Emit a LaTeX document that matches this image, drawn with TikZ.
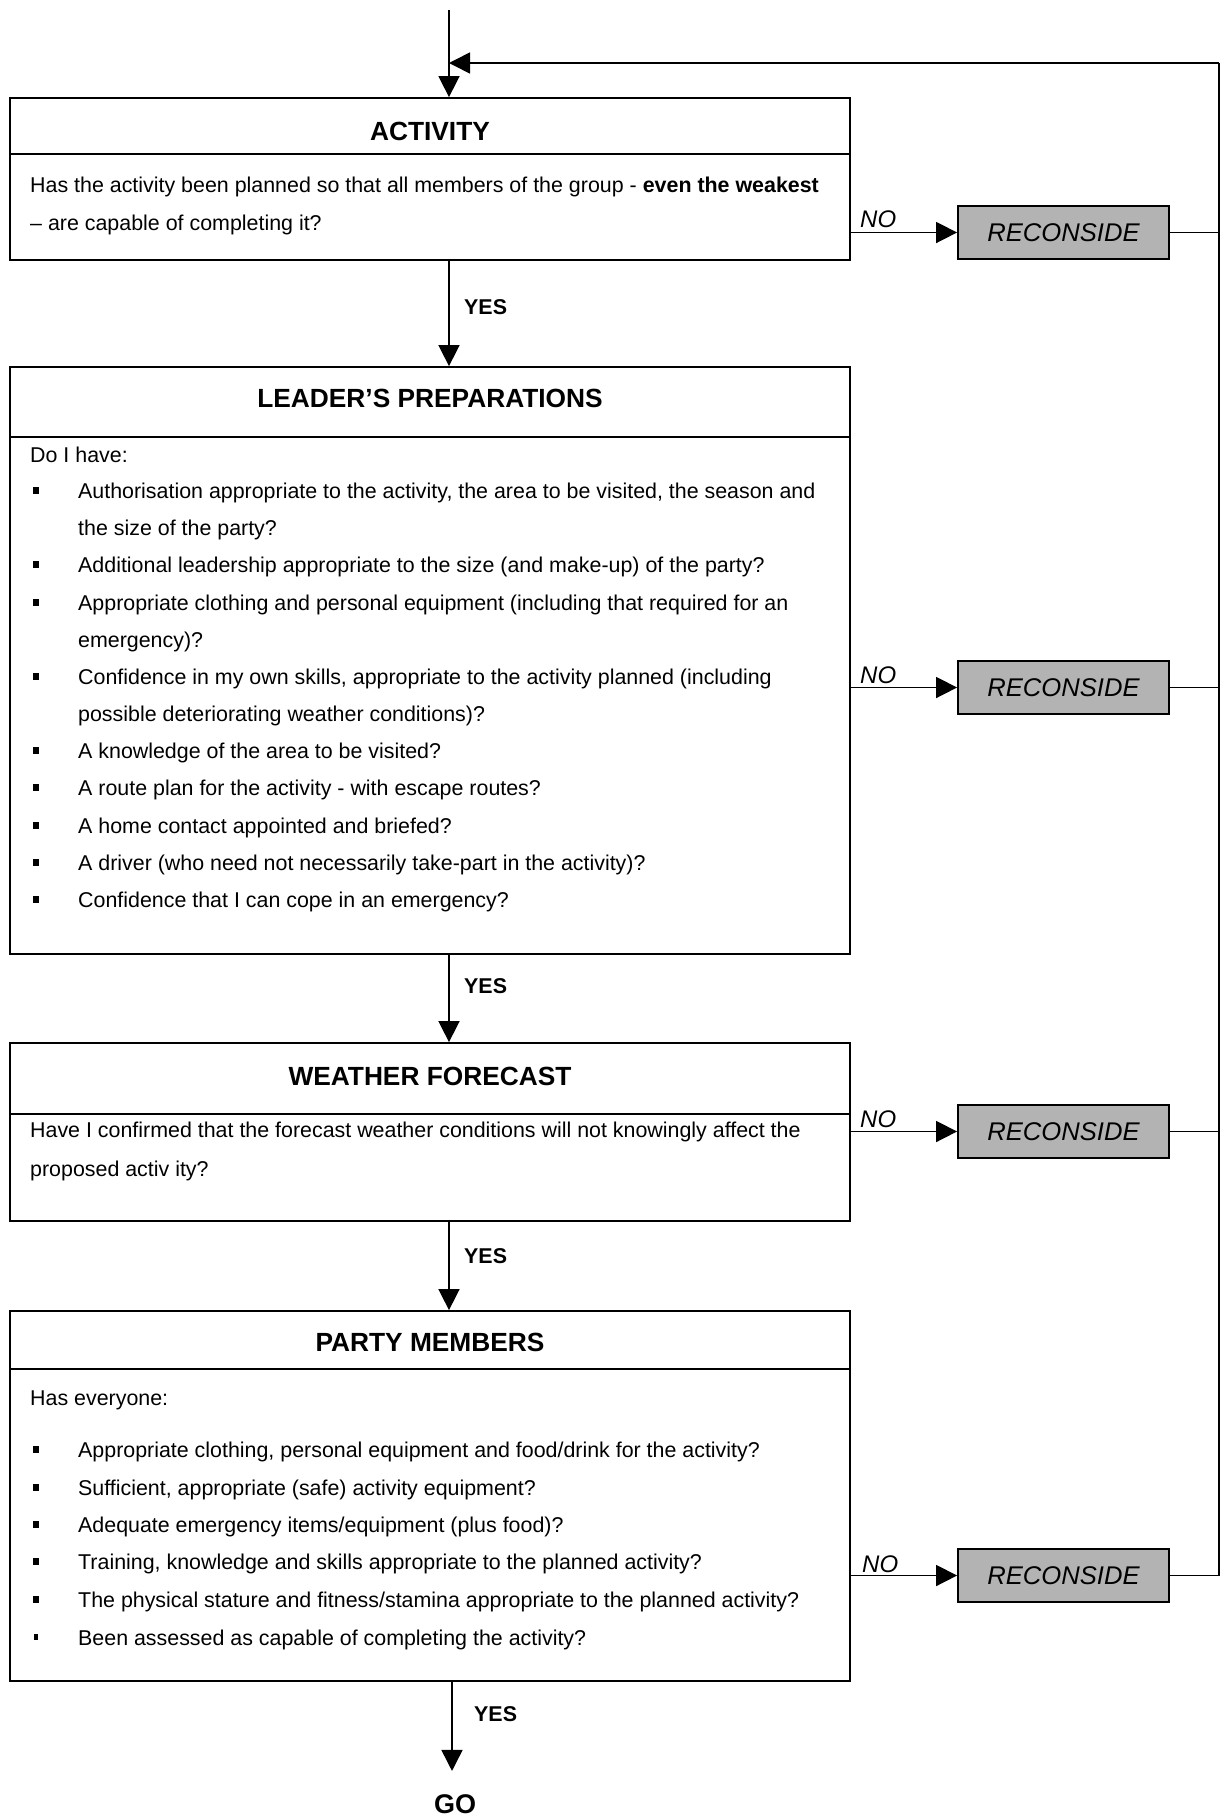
\documentclass[tikz,border=0pt]{standalone}
\usepackage{fontspec}
\setmainfont{Liberation Sans}
\usetikzlibrary{arrows.meta,calc}
\definecolor{recgray}{HTML}{B3B3B3}
\begin{document}
\begin{tikzpicture}[x=1pt,y=-1pt,
  box/.style={draw,line width=1.8pt,minimum width=840pt,inner sep=0pt},
  sepline/.style={line width=1.8pt},
  recbox/.style={draw,line width=1.8pt,fill=recgray,minimum width=211pt,minimum height=53pt,inner sep=0pt,
    font=\fontsize{25.6pt}{30pt}\selectfont\itshape},
  conn/.style={line width=1.6pt},
  arr/.style={line width=1.6pt,-{Triangle[length=21pt,width=21pt]}},
  body/.style={anchor=base west,inner sep=0pt,font=\fontsize{21.4pt}{37.2pt}\selectfont},
  ttl/.style={anchor=base,inner sep=0pt,font=\fontsize{26.3pt}{30pt}\selectfont\bfseries},
  yeslbl/.style={anchor=base west,inner sep=0pt,font=\fontsize{21.4pt}{26pt}\selectfont\bfseries},
  nolbl/.style={anchor=base west,inner sep=0pt,font=\fontsize{24pt}{28pt}\selectfont\itshape},
  bul/.style={fill=black,inner sep=0pt,minimum width=6pt,minimum height=7pt},
  smallbul/.style={fill=black,inner sep=0pt,minimum width=4pt,minimum height=6pt}]
\useasboundingbox (0,0) rectangle (1220,1816);

% main boxes
\node[box,minimum height=162pt] (act) at (430,179) {};
\node[box,minimum height=587pt] (lead) at (430,660.5) {};
\node[box,minimum height=178pt] (wea) at (430,1132) {};
\node[box,minimum height=370pt] (party) at (430,1496) {};

% header separators
\draw[sepline] (act.west |- 0,154) -- (act.east |- 0,154);
\draw[sepline] (lead.west |- 0,437) -- (lead.east |- 0,437);
\draw[sepline] (wea.west |- 0,1114) -- (wea.east |- 0,1114);
\draw[sepline] (party.west |- 0,1369) -- (party.east |- 0,1369);

% titles
\node[ttl] (tact) at (430,140) {ACTIVITY};
\node[ttl] (tlead) at (430,407) {LEADER’S PREPARATIONS};
\node[ttl] (twea) at (430,1085) {WEATHER FORECAST};
\node[ttl] (tparty) at (430,1351) {PARTY MEMBERS};

% activity text
\node[body] (a1) at (30,192) {Has the activity been planned so that all members of the group - \textbf{even the weakest}};
\node[body] (a2) at (30,230) {– are capable of completing it?};

% leader text
\node[body] (l0) at (30,462) {Do I have:};
\foreach \y/\t/\n in {498/{Authorisation appropriate to the activity, the area to be visited, the season and}/1,
  535/{the size of the party?}/2,
  572/{Additional leadership appropriate to the size (and make-up) of the party?}/3,
  610/{Appropriate clothing and personal equipment (including that required for an}/4,
  647/{emergency)?}/5,
  684/{Confidence in my own skills, appropriate to the activity planned (including}/6,
  721/{possible deteriorating weather conditions)?}/7,
  758/{A knowledge of the area to be visited?}/8,
  795/{A route plan for the activity - with escape routes?}/9,
  833/{A home contact appointed and briefed?}/10,
  870/{A driver (who need not necessarily take-part in the activity)?}/11,
  907/{Confidence that I can cope in an emergency?}/12}
  {\node[body] (lt\n) at (78,\y) {\t};}
\foreach \y/\n in {498/1,572/3,610/4,684/6,758/8,795/9,833/10,870/11,907/12}
  {\node[bul] (lb\n) at (36,\y-8) {};}

% weather text
\node[body] (w1) at (30,1137) {Have I confirmed that the forecast weather conditions will not knowingly affect the};
\node[body] (w2) at (30,1176) {proposed activ ity?};

% party text
\node[body] (p0) at (30,1405) {Has everyone:};
\foreach \y/\t/\n in {1457/{Appropriate clothing, personal equipment and food/drink for the activity?}/1,
  1495/{Sufficient, appropriate (safe) activity equipment?}/2,
  1532/{Adequate emergency items/equipment (plus food)?}/3,
  1569/{Training, knowledge and skills appropriate to the planned activity?}/4,
  1607/{The physical stature and fitness/stamina appropriate to the planned activity?}/5,
  1645/{Been assessed as capable of completing the activity?}/6}
  {\node[body] (pt\n) at (78,\y) {\t};}
\foreach \y/\n in {1457/1,1495/2,1532/3,1569/4,1607/5}
  {\node[bul] (pb\n) at (36,\y-8) {};}
\node[smallbul] (pb6) at (36,1645-8) {};

% reconsider boxes
\node[recbox] (rec1) at (1063.5,232.5) {RECONSIDE};
\node[recbox] (rec2) at (1063.5,687.5) {RECONSIDE};
\node[recbox] (rec3) at (1063.5,1131.5) {RECONSIDE};
\node[recbox] (rec4) at (1063.5,1575.5) {RECONSIDE};

% coordinates
\coordinate (in) at (449,10);
\coordinate (loop) at (1219,63);

% GO
\node[anchor=base,inner sep=0pt,font=\fontsize{27pt}{30pt}\selectfont\bfseries] (go) at (455,1813) {GO};

% main flow
\draw[arr] (in) -- (in |- act.north);
\draw[arr] (in |- act.south) -- (in |- lead.north);
\draw[arr] (in |- lead.south) -- (in |- wea.north);
\draw[arr] (in |- wea.south) -- (in |- party.north);
\draw[arr,shorten >=23pt] (party.south -| 452,0) -- (go.north -| 452,0);

% YES labels
\node[yeslbl] (y1) at (464,314) {YES};
\node[yeslbl] (y2) at (464,993) {YES};
\node[yeslbl] (y3) at (464,1263) {YES};
\node[yeslbl] (y4) at (474,1721) {YES};

% NO branches
\draw[arr] (act.east |- rec1.west) -- (rec1.west);
\draw[arr] (lead.east |- rec2.west) -- (rec2.west);
\draw[arr] (wea.east |- rec3.west) -- (rec3.west);
\draw[arr] (party.east |- rec4.west) -- (rec4.west);
\node[nolbl] (n1) at (860,227) {NO};
\node[nolbl] (n2) at (860,683) {NO};
\node[nolbl] (n3) at (860,1127) {NO};
\node[nolbl] (n4) at (862,1572) {NO};

% feedback loop
\draw[conn] (rec1.east) -- (rec1.east -| loop);
\draw[conn] (rec2.east) -- (rec2.east -| loop);
\draw[conn] (rec3.east) -- (rec3.east -| loop);
\draw[conn] (rec4.east) -| (loop);
\draw[arr] (loop) -- (in |- loop);
\end{tikzpicture}
\end{document}
